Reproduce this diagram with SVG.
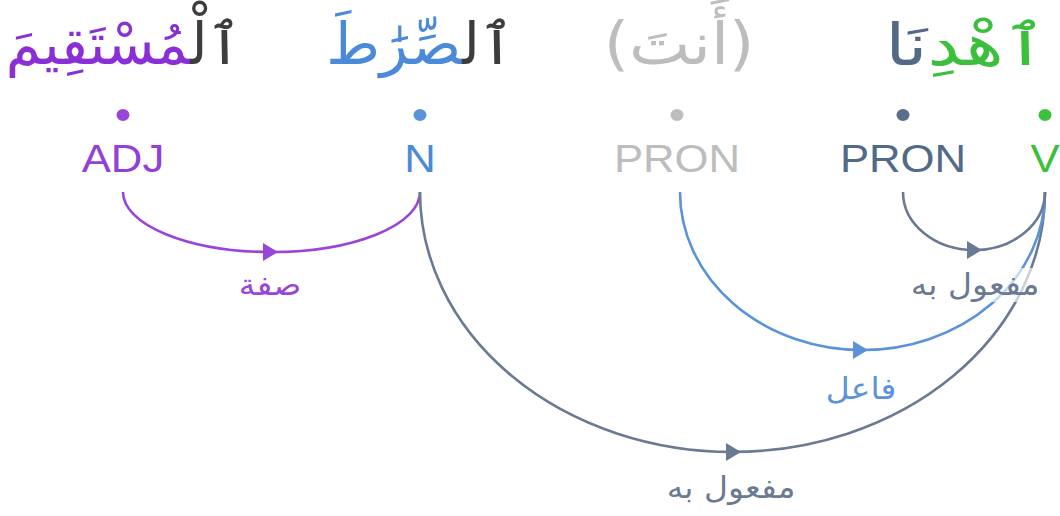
<svg xmlns="http://www.w3.org/2000/svg" width="1060" height="516" viewBox="0 0 1060 516">
<style>
.word{font-family:"DejaVu Sans",sans-serif;font-size:58px;text-anchor:middle}
.pos{font-family:"Liberation Sans",Arial,sans-serif;font-size:38px;text-anchor:middle}
.lbl{font-family:"DejaVu Sans",sans-serif;font-size:30px;text-anchor:middle}
.arc{fill:none;stroke-width:2.6}
</style>
<rect width="1060" height="516" fill="#ffffff"/>
<g id="connectors">
<g id="e-adj-n">
<path class="arc" stroke="#9a45d9" d="M123 192 A148.5 60 0 0 0 420 192"/>
<polygon fill="#9a45d9" points="263,243 278,252 263,261"/>
<text class="lbl" fill="#9a45d9" transform="translate(270 295) scale(1.1 1)">صفة</text>
</g>
<g id="e-n-v">
<path class="arc" stroke="#6a7a92" d="M420 192 A312.5 260 0 0 0 1045 192"/>
<polygon fill="#6a7a92" points="726,443 741,452 726,461"/>
<text class="lbl" fill="#6a7a92" transform="translate(731 498) scale(1.1 1)">مفعول به</text>
</g>
<g id="e-pron1-v">
<path class="arc" stroke="#5b93d9" d="M680 192 A182.5 158 0 0 0 1045 192"/>
<polygon fill="#5b93d9" points="853,341 868,350 853,359"/>
<text class="lbl" fill="#5b93d9" transform="translate(861 399) scale(1.1 1)">فاعل</text>
</g>
<g id="e-pron2-v">
<path class="arc" stroke="#6a7a92" d="M903 192 A71 58 0 0 0 1045 192"/>
<polygon fill="#6a7a92" points="967,241 982,250 967,259"/>
<rect x="903" y="268" width="146" height="34" fill="#ffffff" fill-opacity="0.65"/>
<text class="lbl" fill="#6a7a92" transform="translate(975 295) scale(1.1 1)">مفعول به</text>
</g>
</g>
<g id="node-adj">
<text class="word" transform="translate(123 64) scale(0.98 1)"><tspan fill="#3d3d3d">ٱلْ&#x200D;</tspan><tspan fill="#8a2fd6">&#x200D;مُسْتَقِيمَ</tspan></text>
<ellipse cx="123" cy="115" rx="6.5" ry="6" fill="#9a45d9"/>
<text class="pos" fill="#9240d8" transform="translate(123 172) scale(1.15 1)">ADJ</text>
</g>
<g id="node-n">
<text class="word" transform="translate(420 64) scale(1.0 1)"><tspan fill="#3d3d3d">ٱل&#x200D;</tspan><tspan fill="#4a8ad8">&#x200D;صِّرَٰطَ</tspan></text>
<ellipse cx="420" cy="115" rx="6.5" ry="6" fill="#5b93d9"/>
<text class="pos" fill="#4a8ad8" transform="translate(420 172) scale(1.15 1)">N</text>
</g>
<g id="node-pron1">
<text class="word" fill="#bdbdbd" transform="translate(679 64) scale(1.12 1)">(أَنتَ)</text>
<ellipse cx="677" cy="115" rx="6.5" ry="6" fill="#bdbdbd"/>
<text class="pos" fill="#bdbdbd" transform="translate(677 172) scale(1.15 1)">PRON</text>
</g>
<g id="node-pron2">
<ellipse cx="903" cy="115" rx="6.5" ry="6" fill="#5a6e89"/>
<text class="pos" fill="#536a87" transform="translate(903 172) scale(1.15 1)">PRON</text>
</g>
<g id="node-v">
<text class="word" transform="translate(966 65) scale(1.25 1)"><tspan fill="#3cbf3c">ٱهْدِ</tspan><tspan fill="#536a87">نَا</tspan></text>
<ellipse cx="1045" cy="115" rx="6.5" ry="6" fill="#3cc23c"/>
<text class="pos" fill="#3cbf3c" transform="translate(1045 172) scale(1.15 1)">V</text>
</g>
</svg>
